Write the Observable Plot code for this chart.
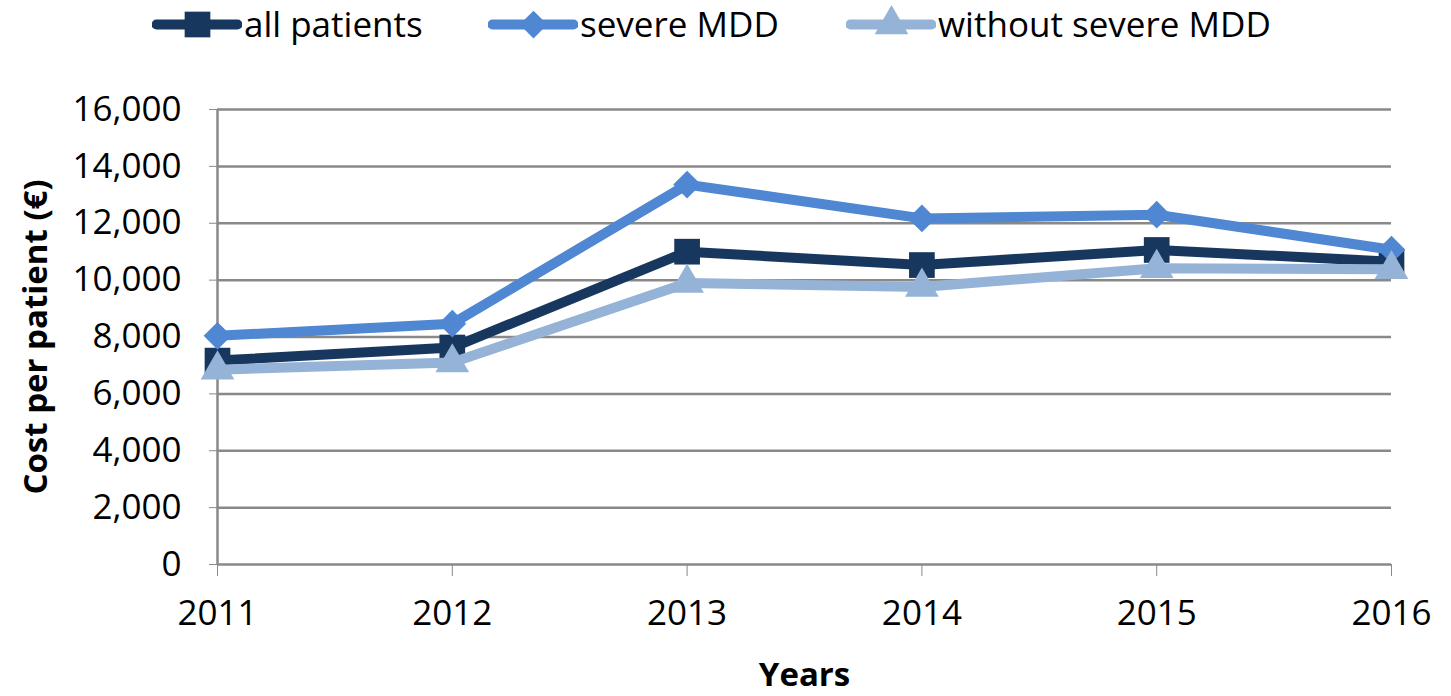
<!DOCTYPE html>
<html>
<head>
<meta charset="utf-8">
<script src="https://cdn.jsdelivr.net/npm/d3@7"></script>
<script src="https://cdn.jsdelivr.net/npm/@observablehq/plot@0.6"></script>
<style>
  html, body { margin: 0; padding: 0; background: #fff; }
  body { width: 1451px; height: 696px; overflow: hidden; font-family: "Open Sans", sans-serif; }
  #legend { height: 50px; position: relative; font-size: 35px; color: #000; }
  .item { display: flex; align-items: center; }
  .item svg { margin-right: 2px; }
</style>
</head>
<body>
<div id="legend"></div>
<div id="chart"></div>
<script>
const years = [2011, 2012, 2013, 2014, 2015, 2016];
const seriesNames = ["all patients", "severe MDD", "without severe MDD"];
const allPatients = [7170, 7630, 11000, 10530, 11060, 10650];
const severeMDD = [8040, 8470, 13360, 12170, 12300, 11070];
const withoutSevere = [6850, 7100, 9900, 9760, 10420, 10380];
const colors = ["#17375E", "#4F87D2", "#95B3D7"];
const symbols = ["square", "diamond2", "triangle"];
const radii = [14.5, 12.5, 12.5];
const yTicks = [0, 2000, 4000, 6000, 8000, 10000, 12000, 14000, 16000];

const valueLists = [allPatients, severeMDD, withoutSevere];
const data = seriesNames.flatMap((s, i) => years.map((y, j) => ({series: s, year: y, value: valueLists[i][j]})));

// Legend
const legendStarts = [152, 488, 846];
const legend = document.getElementById("legend");
seriesNames.forEach((name, i) => {
  const item = document.createElement("div");
  item.className = "item";
  item.style.position = "absolute";
  item.style.left = legendStarts[i] + "px";
  item.style.top = "0px";
  const sw = Plot.plot({
    width: 90, height: 40, margin: 0,
    x: {domain: [0, 1], axis: null}, y: {domain: [0, 1], axis: null},
    marks: [
      Plot.ruleY([0.5], {x1: 0.05, x2: 0.95, stroke: colors[i], strokeWidth: 10, strokeLinecap: "round"}),
      Plot.dot([[0.5, 0.5]], {symbol: symbols[i], r: radii[i], fill: colors[i], stroke: null})
    ]
  });
  item.appendChild(sw);
  const t = document.createElement("span");
  t.textContent = name;
  item.appendChild(t);
  legend.appendChild(item);
});

const marks = [
  Plot.gridY(yTicks, {stroke: "#898989", strokeOpacity: 1, strokeWidth: 2.5}),
  Plot.ruleX([years[0]], {y1: 0, y2: 16000, stroke: "#898989", strokeWidth: 2.5}),
  Plot.axisY({ticks: yTicks, tickFormat: d3.format(","), tickSize: 8, tickPadding: 28, stroke: "#898989",
    label: "Cost per patient (€)", labelAnchor: "center", labelArrow: false, labelOffset: 194,
    fontSize: 35}),
  Plot.axisX({ticks: years, tickFormat: d3.format("d"), tickSize: 12, tickPadding: 24, stroke: "#898989",
    label: "Years", labelAnchor: "center", labelArrow: false, labelOffset: 121, fontSize: 35})
];
seriesNames.forEach((s, i) => {
  const d = data.filter(r => r.series === s);
  marks.push(Plot.line(d, {x: "year", y: "value", stroke: colors[i], strokeWidth: 10, strokeLinejoin: "round", strokeLinecap: "round"}));
  marks.push(Plot.dot(d, {x: "year", y: "value", symbol: symbols[i], r: radii[i], fill: colors[i], stroke: null}));
});

const chart = Plot.plot({
  width: 1451, height: 646,
  marginTop: 59, marginBottom: 132, marginLeft: 217, marginRight: 60,
  style: {fontFamily: "'Open Sans', sans-serif", fontSize: "35px", color: "#000", background: "#fff"},
  x: {domain: [2011, 2016], type: "linear"},
  y: {domain: [0, 16000]},
  marks
});
document.getElementById("chart").appendChild(chart);
chart.querySelectorAll("[aria-label='y-axis label'] text, [aria-label='x-axis label'] text").forEach(t => {
  t.setAttribute("font-weight", "bold");
  t.setAttribute("font-size", "33");
});
</script>
</body>
</html>
